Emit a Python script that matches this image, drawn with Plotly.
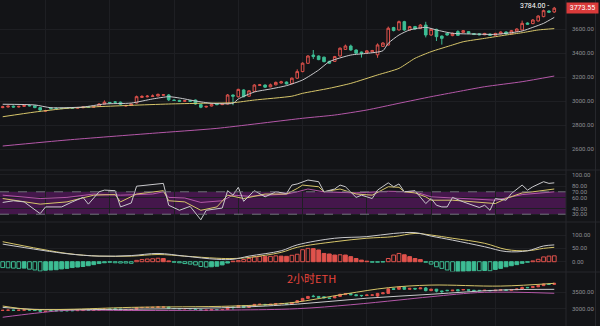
import plotly.graph_objects as go
from plotly.subplots import make_subplots

# ---- 2h ETH candles (open / close / high / low) ----
opens = [2945, 2950, 2957, 2950, 2955, 2963, 2960, 2945, 2915, 2942, 2940, 2940, 2941, 2943, 2940, 2944,
         2952, 2948, 2955, 2975, 2988, 2992, 2990, 2958, 2963, 2983, 3030, 3035, 3038, 3042, 3048, 3050,
         3008, 3005, 2998, 3003, 3008, 2970, 2950, 2958, 2975, 2970, 2975, 3050, 3035, 3092, 3040, 3080,
         3130, 3133, 3118, 3135, 3150, 3158, 3145, 3190, 3245, 3314, 3383, 3375, 3365, 3330, 3330, 3375,
         3430, 3458, 3425, 3408, 3402, 3410, 3385, 3455, 3467, 3612, 3592, 3661, 3592, 3620, 3605, 3633,
         3550, 3597, 3541, 3564, 3545, 3578, 3572, 3578, 3562, 3560, 3552, 3558, 3548, 3560, 3575, 3560,
         3580, 3592, 3650, 3645, 3667, 3703, 3750, 3742]
closes = [2952, 2957, 2950, 2955, 2963, 2960, 2945, 2925, 2920, 2936, 2936, 2937, 2938, 2940, 2945, 2950,
          2948, 2952, 2975, 2990, 2984, 2990, 2972, 2963, 2975, 3036, 3038, 3040, 3042, 3055, 3052, 3010,
          3005, 2998, 3002, 2998, 2975, 2948, 2955, 2972, 2970, 2976, 3050, 3040, 3097, 3036, 3085, 3133,
          3135, 3115, 3135, 3155, 3160, 3142, 3190, 3245, 3315, 3375, 3370, 3345, 3328, 3315, 3370, 3440,
          3458, 3425, 3398, 3398, 3418, 3420, 3467, 3483, 3606, 3587, 3661, 3592, 3620, 3600, 3633, 3550,
          3597, 3536, 3522, 3550, 3564, 3547, 3586, 3564, 3554, 3552, 3563, 3547, 3563, 3575, 3558, 3586,
          3600, 3647, 3640, 3675, 3708, 3753, 3740, 3773.55]
highs = [2960, 2963, 2962, 2960, 2968, 2968, 2964, 2950, 2926, 2946, 2944, 2944, 2945, 2947, 2950, 2954,
         2955, 2956, 2982, 3005, 2992, 3000, 2995, 2968, 2980, 3045, 3048, 3050, 3055, 3062, 3058, 3058,
         3012, 3010, 3008, 3008, 3012, 2975, 2960, 2978, 2980, 2982, 3058, 3055, 3102, 3098, 3090, 3140,
         3142, 3138, 3145, 3162, 3168, 3162, 3196, 3264, 3322, 3382, 3425, 3380, 3370, 3336, 3376, 3446,
         3470, 3470, 3430, 3412, 3424, 3426, 3480, 3490, 3620, 3618, 3670, 3668, 3626, 3626, 3640, 3660,
         3604, 3602, 3546, 3570, 3570, 3590, 3592, 3582, 3566, 3564, 3568, 3562, 3568, 3580, 3580, 3592,
         3606, 3670, 3655, 3682, 3714, 3762, 3755, 3784]
lows = [2940, 2946, 2945, 2946, 2950, 2955, 2940, 2918, 2910, 2930, 2932, 2933, 2934, 2936, 2937, 2940,
        2944, 2945, 2952, 2972, 2980, 2985, 2965, 2954, 2960, 2980, 3026, 3030, 3034, 3038, 3044, 3000,
        3000, 2994, 2994, 2994, 2970, 2940, 2945, 2955, 2965, 2966, 2972, 2965, 3030, 3030, 3035, 3075,
        3125, 3110, 3114, 3130, 3146, 3138, 3140, 3185, 3240, 3310, 3350, 3340, 3322, 3310, 3326, 3370,
        3426, 3420, 3392, 3362, 3398, 3404, 3360, 3450, 3462, 3580, 3588, 3585, 3586, 3594, 3600, 3530,
        3544, 3500, 3470, 3545, 3540, 3542, 3568, 3560, 3550, 3548, 3548, 3543, 3544, 3556, 3554, 3556,
        3575, 3588, 3636, 3640, 3662, 3698, 3735, 3735]
bars = list(range(len(closes)))

# ---- price moving averages (sampled at bar index) ----
ma_fast_idx = [0, 6, 9, 15, 19, 24, 28, 31, 33, 36, 39, 43, 44, 47, 50, 53, 56, 59, 61, 65, 68, 71, 72,
               74, 76, 79, 81, 84, 88, 92, 94, 97, 99, 101, 103]
ma_fast = [2973, 2967, 2944, 2950, 2975, 2983, 3017, 3036, 3025, 3000, 2981, 2981, 3017, 3075, 3100, 3128,
           3175, 3258, 3328, 3383, 3397, 3419, 3481, 3550, 3592, 3614, 3592, 3564, 3558, 3555, 3564, 3583,
           3614, 3647, 3697]
ma_mid_idx = [0, 6, 12, 18, 24, 31, 37, 43, 47, 54, 56, 61, 65, 70, 74, 77, 80, 84, 86, 90, 94, 97, 100, 103]
ma_mid = [2869, 2908, 2939, 2953, 2964, 2975, 2981, 2986, 3008, 3040, 3064, 3106, 3147, 3217, 3272, 3356,
          3411, 3467, 3494, 3522, 3550, 3569, 3592, 3603]
ma_slow_idx = [0, 12, 28, 40, 56, 62, 68, 74, 80, 85, 90, 97, 103]
ma_slow = [2625, 2675, 2731, 2772, 2856, 2883, 2925, 2981, 3036, 3078, 3119, 3161, 3208]

# ---- RSI (6 / 12 / 24) ----
rsi6_idx = [0, 2, 4, 7, 8, 11, 13, 15, 16, 18, 19, 21, 22, 24, 25, 27, 30, 31, 33, 35, 37, 38, 41, 42,
            43, 44, 45, 47, 49, 51, 53, 54, 55, 57, 59, 60, 62, 63, 64, 66, 67, 69, 70, 72, 73, 74, 75,
            77, 79, 80, 81, 82, 83, 84, 86, 89, 90, 91, 92, 94, 95, 97, 98, 99, 101, 102, 103]
rsi6 = [51, 54, 52, 31, 43, 43, 52, 60, 48, 70, 73, 72, 43, 50, 80, 82, 85, 46, 37, 44, 20, 37, 41, 72,
        64, 78, 53, 72, 61, 70, 67, 82, 84, 91, 88, 70, 75, 82, 79, 60, 64, 58, 73, 86, 79, 84, 70,
        72, 49, 58, 46, 43, 43, 60, 52, 42, 46, 37, 58, 55, 67, 82, 73, 79, 88, 85, 86]
rsi12_idx = [0, 7, 12, 17, 21, 22, 25, 30, 31, 34, 37, 40, 42, 45, 49, 53, 55, 56, 59, 60, 63, 66, 69,
             72, 74, 75, 77, 79, 80, 84, 88, 92, 94, 97, 99, 103]
rsi12 = [58, 48, 52, 64, 65, 52, 66, 72, 54, 52, 37, 43, 64, 58, 66, 66, 76, 82, 79, 70, 75, 66, 64,
         79, 78, 70, 68, 61, 55, 55, 52, 49, 58, 68, 70, 75]
rsi24_idx = [0, 7, 12, 17, 22, 28, 30, 31, 34, 37, 41, 43, 46, 53, 55, 57, 60, 66, 72, 77, 80, 88, 92, 97, 103]
rsi24 = [64, 58, 60, 66, 64, 66, 70, 60, 59, 51, 54, 64, 62, 66, 70, 75, 70, 68, 71, 70, 61, 57, 55, 65, 70]
rsi_zone = (30, 70)

# ---- MACD ----
macd_idx = [0, 12, 18, 24, 29, 34, 40, 43, 46, 52, 55, 62, 68, 73, 77, 80, 84, 90, 94, 98, 101, 103]
dif = [66, 30, 21, 23, 31, 21, 9, 9, 21, 41, 63, 88, 94, 106, 109, 96, 81, 56, 38, 41, 59, 63]
dea = [75, 31, 21, 21, 27, 21, 13, 12, 16, 35, 54, 75, 88, 94, 106, 100, 88, 69, 46, 41, 50, 54]
hist = [-22, -23, -24, -25, -24, -28, -31, -35, -32, -31, -30, -27, -25, -22, -20, -18,
        -15, -11, -7, -4, -2, -4, -5, -5, -6, 5, 8, 10, 11, 13, 12, 3,
        -2, -4, -7, -9, -12, -18, -20, -19, -17, -12, -5, 2, 4, 8, 12, 18,
        20, 19, 20, 22, 21, 20, 24, 28, 45, 50, 49, 44, 31, 29, 25, 26,
        25, 19, 12, 6, 2, -2, -2, -1, 12, 25, 31, 26, 19, 12, 8, -2,
        -9, -19, -25, -31, -38, -37, -36, -35, -34, -34, -33, -34, -29, -25, -19, -15,
        -11, -6, -2, 3, 9, 18, 21, 22]

# ---- lower price panel bands ----
band_up_idx = [0, 5, 12, 24, 43, 54, 64, 72, 80, 93, 103]
band_up = [3082, 2980, 2980, 3041, 3082, 3184, 3450, 3640, 3720, 3690, 3774]
band_mid_idx = [0, 6, 24, 43, 55, 68, 80, 93, 103]
band_mid = [3041, 2980, 2985, 3040, 3140, 3320, 3440, 3570, 3590]
band_low_idx = [0, 6, 12, 24, 43, 55, 65, 74, 80, 90, 103]
band_low = [2740, 2860, 2950, 2945, 2960, 3000, 3120, 3265, 3366, 3500, 3470]

main_ticks = [2600, 2800, 3000, 3200, 3400, 3600]
rsi_ticks = [30, 40, 60, 70, 80, 100]
macd_ticks = [0, 50, 100]
low_ticks = [3000, 3500]

BG = "#131417"
GRID = "#1e1f23"
UP = "#e0524c"
DOWN = "#3dbd94"
WHITE = "#c9c9cc"
YELLOW = "#d6c56a"
PURPLE = "#b457a8"
TICK = "#8d8f94"
FONT = "Roboto"

fig = make_subplots(rows=4, cols=1, shared_xaxes=True, vertical_spacing=0,
                    row_heights=[170, 52, 50, 54])

fig.add_trace(go.Candlestick(x=bars, open=opens, high=highs, low=lows, close=closes,
                             increasing=dict(line=dict(color=UP, width=1), fillcolor=BG),
                             decreasing=dict(line=dict(color=DOWN, width=1), fillcolor=DOWN),
                             whiskerwidth=0, showlegend=False, hoverinfo="skip"), row=1, col=1)
for xs, ys, c in [(ma_slow_idx, ma_slow, PURPLE), (ma_mid_idx, ma_mid, YELLOW), (ma_fast_idx, ma_fast, WHITE)]:
    fig.add_trace(go.Scatter(x=xs, y=ys, mode="lines", line=dict(color=c, width=1, shape="spline", smoothing=0.6),
                             showlegend=False, hoverinfo="skip"), row=1, col=1)

# RSI lines
for xs, ys, c in [(rsi24_idx, rsi24, PURPLE), (rsi12_idx, rsi12, YELLOW), (rsi6_idx, rsi6, WHITE)]:
    fig.add_trace(go.Scatter(x=xs, y=ys, mode="lines", line=dict(color=c, width=1),
                             showlegend=False, hoverinfo="skip"), row=2, col=1)

# MACD histogram: hollow while the bar grows, solid while it shrinks
fills, edges = [], []
for i, v in enumerate(hist):
    col = UP if v >= 0 else DOWN
    growing = i == 0 or v * hist[i - 1] <= 0 or abs(v) >= abs(hist[i - 1])
    fills.append(BG if growing else col)
    edges.append(col)
fig.add_trace(go.Bar(x=bars, y=hist, marker=dict(color=fills, line=dict(color=edges, width=1)),
                     showlegend=False, hoverinfo="skip"), row=3, col=1)
fig.add_trace(go.Scatter(x=macd_idx, y=dea, mode="lines", line=dict(color=YELLOW, width=1, shape="spline"),
                         showlegend=False, hoverinfo="skip"), row=3, col=1)
fig.add_trace(go.Scatter(x=macd_idx, y=dif, mode="lines", line=dict(color=WHITE, width=1, shape="spline"),
                         showlegend=False, hoverinfo="skip"), row=3, col=1)

# lower price panel
for xs, ys, c in [(band_low_idx, band_low, PURPLE), (band_mid_idx, band_mid, WHITE), (band_up_idx, band_up, YELLOW)]:
    fig.add_trace(go.Scatter(x=xs, y=ys, mode="lines", line=dict(color=c, width=1, shape="spline"),
                             showlegend=False, hoverinfo="skip"), row=4, col=1)
fig.add_trace(go.Candlestick(x=bars, open=opens, high=highs, low=lows, close=closes,
                             increasing=dict(line=dict(color=UP, width=1), fillcolor=UP),
                             decreasing=dict(line=dict(color=DOWN, width=1), fillcolor=DOWN),
                             whiskerwidth=0, showlegend=False, hoverinfo="skip"), row=4, col=1)

# RSI 30-70 zone with dashed borders
fig.add_hrect(y0=rsi_zone[0], y1=rsi_zone[1], fillcolor="#44174b", opacity=1, line_width=0,
              layer="below", row=2, col=1, exclude_empty_subplots=False)
for lvl in rsi_zone:
    fig.add_hline(y=lvl, line=dict(color="#70707a", width=1, dash="dash"), row=2, col=1,
                  exclude_empty_subplots=False)

xgrid = list(range(8, 104, 12))
for r in range(1, 5):
    fig.update_xaxes(row=r, col=1, range=[-0.504, 105.19], tickvals=xgrid, showticklabels=False,
                     showgrid=True, gridcolor=GRID, gridwidth=1, zeroline=False, showline=False,
                     rangeslider_visible=False, fixedrange=True)

axis_common = dict(side="right", showgrid=True, gridcolor=GRID, gridwidth=1, zeroline=False,
                   tickformat=".2f", tickfont=dict(family=FONT, size=6, color=TICK),
                   ticks="", ticklabelstandoff=5, showline=False)
fig.update_yaxes(row=1, col=1, range=[2425, 3841.7], tickvals=main_ticks, **axis_common)
fig.update_yaxes(row=2, col=1, range=[16.1, 108.9], tickvals=rsi_ticks, **axis_common)
fig.update_yaxes(row=3, col=1, range=[-38.6, 148.9], tickvals=macd_ticks, **axis_common)
fig.update_yaxes(row=4, col=1, range=[2473, 4119], tickvals=low_ticks, **axis_common)

# panel separators and right edge
for yp in (1 - 170 / 326, 1 - 222 / 326, 1 - 272 / 326):
    fig.add_shape(type="line", xref="paper", yref="paper", x0=0, x1=1.06, y0=yp, y1=yp,
                  line=dict(color="#26272c", width=1))
fig.add_shape(type="line", xref="paper", yref="paper", x0=1, x1=1, y0=0, y1=1,
              line=dict(color="#26272c", width=1))
fig.add_shape(type="line", xref="paper", yref="paper", x0=595.5 / 566, x1=595.5 / 566, y0=0, y1=1,
              line=dict(color="#26272c", width=1))

# last price tag and session high
last = closes[-1]
fig.add_annotation(xref="paper", yref="y", x=1.0, y=last, xanchor="left", yanchor="middle",
                   text=f" {last:.2f} ", showarrow=False, bgcolor="#d93a3a",
                   font=dict(family=FONT, size=7, color="#ffffff"), borderpad=1)
hi = max(highs)
fig.add_annotation(xref="x", yref="y", x=highs.index(hi), y=hi, xanchor="right", yanchor="middle",
                   xshift=-3, yshift=1, text=f"{hi:.2f} -", showarrow=False,
                   font=dict(family=FONT, size=7, color="#ffffff"))

fig.add_annotation(xref="paper", yref="paper", x=311 / 566, y=1 - 288 / 326, text="2小时ETH",
                   showarrow=False, font=dict(family="Noto Sans CJK SC", size=11, color="#e8453c"))

fig.update_layout(width=600, height=326, margin=dict(l=0, r=34, t=0, b=0),
                  paper_bgcolor=BG, plot_bgcolor=BG, bargap=0.3, boxgap=0.3, showlegend=False)

fig.write_html("out.html")
